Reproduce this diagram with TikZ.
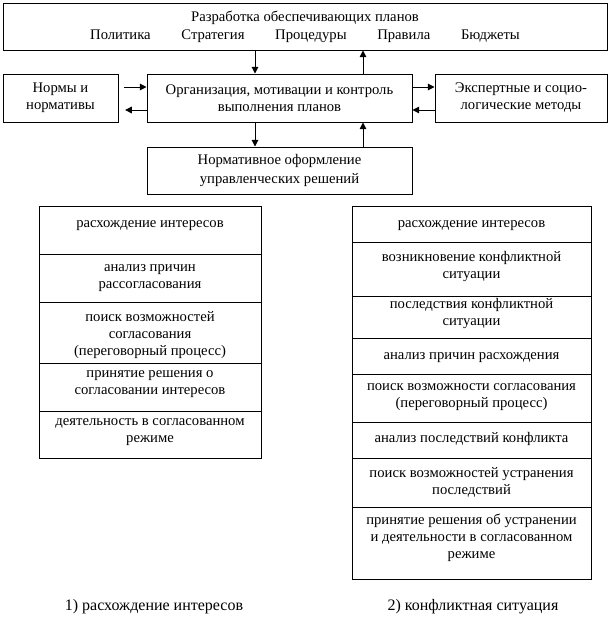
\documentclass[tikz,border=0pt]{standalone}
\usepackage{fontspec}
\setmainfont{Liberation Serif}
\usetikzlibrary{arrows.meta,positioning}

\begin{document}
\begin{tikzpicture}[x=0.75pt, y=-0.75pt, line width=0.75pt, every node/.style={font=\fontsize{11pt}{12.75pt}\selectfont}, box/.style={draw,align=center,inner sep=0pt}, cell/.style={draw,inner sep=0pt}, celltxt/.style={align=center,inner sep=0pt,anchor=north,execute at begin node=\strut}, caption/.style={font=\fontsize{12pt}{14pt}\selectfont,anchor=base}, arr/.style={-{Triangle[length=5pt,width=5pt]}}]
\useasboundingbox (0,0) rectangle (611,629);
% upper scheme
\node[box,minimum width=453pt,minimum height=35.25pt] (plans) at (305,26.5) {Разработка обеспечивающих планов\\[1pt]Политика\hspace{23pt}Стратегия\hspace{23pt}Процедуры\hspace{23pt}Правила\hspace{23pt}Бюджеты};
\node[box,minimum width=198.75pt,minimum height=36pt] (org) at (279.5,98) {Организация, мотивации и контроль\\выполнения планов};
\node[box,minimum width=86.25pt,minimum height=36pt] (norms) at (60.5,98) {Нормы и\\нормативы};
\node[box,minimum width=129pt,minimum height=36pt] (expert) at (521,98) {Экспертные и социо-\\логические методы};
\node[box,minimum width=198.75pt,minimum height=35.25pt] (design) at (279.5,170.5) {Нормативное оформление\\[1pt]управленческих решений};
\coordinate (down) at (255,0); \coordinate (up) at (363,0);
\coordinate (hi) at (0,87); \coordinate (lo) at (0,110);
\draw[arr] (plans.south -| down) -- (org.north -| down);
\draw[arr] (org.north -| up) -- (plans.south -| up);
\draw[arr] (org.south -| down) -- (design.north -| down);
\draw[arr] (design.north -| up) -- (org.south -| up);
\draw[arr,shorten <=3.75pt] (norms.east |- hi) -- (org.west |- hi);
\draw[arr,shorten >=5pt] (org.west |- lo) -- (norms.east |- lo);
\draw[arr] (org.east |- hi) -- (expert.west |- hi);
\draw[arr] (expert.west |- lo) -- (org.east |- lo);
% left table
\foreach \i/\t/\b/\s/\txt in {1/206/254/21/{расхождение интересов}, 2/254/302/22/{анализ причин\\рассогласования}, 3/302/363/21/{поиск возможностей\\согласования\\(переговорный процесс)}, 4/363/411/19/{принятие решения о\\согласовании интересов}, 5/411/458/19/{деятельность в согласованном\\режиме}}{
  \node[cell,minimum width=166.5pt,minimum height={(\b-\t)*0.75pt}] (a\i) at (150,{(\t+\b)/2}) {};
  \node[celltxt] (ta\i) at ([yshift={8.925pt-\s*0.75pt}]a\i.north) {\txt};
}
% right table
\foreach \i/\t/\b/\s/\txt in {1/206/242/21/{расхождение интересов}, 2/242/296/21/{возникновение конфликтной\\ситуации}, 3/296/338/14/{последствия конфликтной\\ситуации}, 4/338/374/21/{анализ причин расхождения}, 5/374/422/21/{поиск возможности согласования\\(переговорный процесс)}, 6/422/458/20/{анализ последствий конфликта}, 7/458/507/21/{поиск возможностей устранения\\последствий}, 8/507/579/19/{принятие решения об устранении\\и деятельности в согласованном\\режиме}}{
  \node[cell,minimum width=179.25pt,minimum height={(\b-\t)*0.75pt}] (b\i) at (471.5,{(\t+\b)/2}) {};
  \node[celltxt] (tb\i) at ([yshift={8.925pt-\s*0.75pt}]b\i.north) {\txt};
}
\node[caption] (capa) at (154,610) {1) расхождение интересов};
\node[caption] (capb) at (473,610) {2) конфликтная ситуация};
\end{tikzpicture}
\end{document}
